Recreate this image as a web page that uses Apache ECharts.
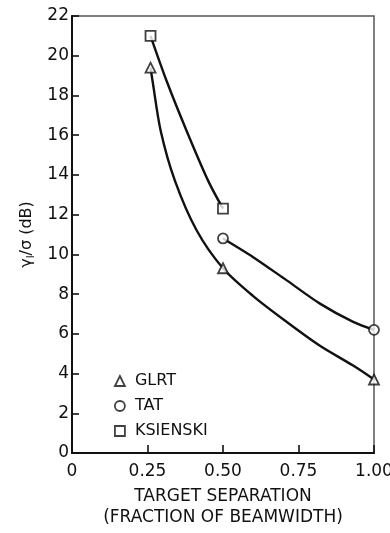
<!DOCTYPE html>
<html>
<head>
<meta charset="utf-8">
<script src="https://cdn.jsdelivr.net/npm/echarts@6/dist/echarts.min.js"></script>
<style>
  html, body { margin: 0; padding: 0; background: #fff; }
  #chart { width: 390px; height: 533px; }
</style>
</head>
<body>
<div id="chart"></div>
<script>
// Measured detector thresholds versus target separation
const xTickLabels = ['0', '0.25', '0.50', '0.75', '1.00'];
const seriesNames = ['GLRT', 'TAT', 'KSIENSKI'];

const glrtX = [0.26, 0.5, 1.0];
const glrtY = [19.4, 9.3, 3.7];
const tatX = [0.5, 1.0];
const tatY = [10.8, 6.2];
const ksienskiX = [0.26, 0.5];
const ksienskiY = [21.0, 12.3];

// Points along each hand-faired curve
const glrtCurve = [[0.26, 19.4], [0.267, 18.7], [0.294, 16.2], [0.341, 13.7], [0.413, 11.2],
                   [0.5, 9.3], [0.6, 7.9], [0.711, 6.6], [0.821, 5.4], [0.931, 4.4], [1.0, 3.7]];
const tatCurve = [[0.5, 10.8], [0.6, 9.86], [0.711, 8.69], [0.821, 7.52], [0.931, 6.6], [1.0, 6.2]];
const ksienskiCurve = [[0.26, 21.0], [0.314, 18.7], [0.38, 16.2], [0.451, 13.7], [0.5, 12.3]];

const pairs = (xs, ys) => xs.map((x, i) => [x, ys[i]]);

const FONT = 'DejaVu Sans';
const INK = '#111';
const markerStyle = { color: '#fff', borderColor: INK, borderWidth: 1.8 };

function curve(data) {
  return {
    type: 'line', data: data, smooth: 0.3, showSymbol: false, symbol: 'none', silent: true,
    lineStyle: { color: INK, width: 2.4 }, z: 2
  };
}
function markers(name, data, symbol, size) {
  return {
    type: 'scatter', name: name, data: data, symbol: symbol, symbolSize: size,
    itemStyle: markerStyle, z: 5
  };
}

const chart = echarts.init(document.getElementById('chart'), null, { renderer: 'canvas' });
chart.setOption({
  animation: false,
  backgroundColor: '#fff',
  grid: {
    left: 72, right: 16, top: 16, bottom: 80, containLabel: false, outerBoundsMode: 'none',
    show: true, borderColor: '#555', borderWidth: 1.5
  },
  legend: {
    orient: 'vertical', left: 109, top: 368, itemWidth: 10, itemHeight: 10, itemGap: 9,
    data: [
      { name: seriesNames[0], icon: 'triangle' },
      { name: seriesNames[1], icon: 'circle' },
      { name: seriesNames[2], icon: 'rect' }
    ],
    itemStyle: markerStyle,
    textStyle: { fontFamily: FONT, fontSize: 16, color: INK, lineHeight: 16, padding: [0, 0, 0, 5] }
  },
  xAxis: {
    type: 'value', min: 0, max: 1, interval: 0.25,
    axisLine: { lineStyle: { color: INK, width: 2 } },
    axisTick: { inside: true, length: 8, lineStyle: { color: INK, width: 1.6 } },
    splitLine: { show: false },
    axisLabel: {
      margin: 10, color: INK, fontFamily: FONT, fontSize: 17,
      formatter: (v) => xTickLabels[Math.round(v / 0.25)]
    },
    name: 'TARGET SEPARATION\n(FRACTION OF BEAMWIDTH)',
    nameLocation: 'middle', nameGap: 33,
    nameTextStyle: { color: INK, fontFamily: FONT, fontSize: 17, lineHeight: 21 }
  },
  yAxis: {
    type: 'value', min: 0, max: 22, interval: 2,
    axisLine: { lineStyle: { color: INK, width: 2 } },
    axisTick: { inside: true, length: 7, lineStyle: { color: INK, width: 1.6 } },
    splitLine: { show: false },
    axisLabel: { margin: 3, color: INK, fontFamily: FONT, fontSize: 17 },
    name: '{a|γ}{b|I}{a|/σ (dB)}',
    nameLocation: 'middle', nameGap: 36, nameRotate: 90,
    nameTextStyle: {
      color: INK, fontFamily: FONT, fontSize: 16,
      rich: {
        a: { fontFamily: FONT, fontSize: 16, color: INK },
        b: { fontFamily: FONT, fontSize: 10, color: INK, verticalAlign: 'bottom', padding: [8, 0, 0, 0] }
      }
    }
  },
  series: [
    curve(glrtCurve),
    curve(tatCurve),
    curve(ksienskiCurve),
    markers(seriesNames[0], pairs(glrtX, glrtY), 'triangle', 10),
    markers(seriesNames[1], pairs(tatX, tatY), 'circle', 10),
    markers(seriesNames[2], pairs(ksienskiX, ksienskiY), 'rect', 10)
  ]
});
</script>
</body>
</html>
